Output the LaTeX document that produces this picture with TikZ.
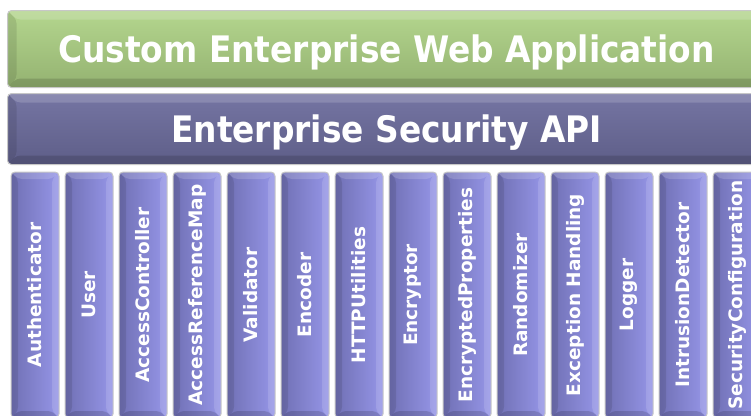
\documentclass[tikz,border=0pt]{standalone}
\usepackage{fontspec}
\setmainfont{DejaVu Sans}
\newfontfamily\condfont{DejaVu Sans Condensed}
\definecolor{appTop}{HTML}{B4D68E}
\definecolor{appBot}{HTML}{94B271}
\definecolor{apiTop}{HTML}{7575A3}
\definecolor{apiBot}{HTML}{5E5E88}
\definecolor{colLeft}{HTML}{7070B4}
\definecolor{colRight}{HTML}{9696E8}
\newcommand{\bevelpic}[1]{%
  \path (path picture bounding box.north west) coordinate (bnw)
        (path picture bounding box.north east) coordinate (bne)
        (path picture bounding box.south east) coordinate (bse)
        (path picture bounding box.south west) coordinate (bsw);
  \fill[white,opacity=.16] (bnw) -- (bne) -- ([xshift=-#1,yshift=-#1]bne) -- ([xshift=#1,yshift=-#1]bnw) -- cycle;
  \fill[black,opacity=.10] (bnw) -- ([xshift=#1,yshift=-#1]bnw) -- ([xshift=#1,yshift=#1]bsw) -- (bsw) -- cycle;
  \fill[white,opacity=.14] (bne) -- ([xshift=-#1,yshift=-#1]bne) -- ([xshift=-#1,yshift=#1]bse) -- (bse) -- cycle;
  \fill[black,opacity=.14] (bsw) -- ([xshift=#1,yshift=#1]bsw) -- ([xshift=-#1,yshift=#1]bse) -- (bse) -- cycle;}
\tikzset{
  slab/.style={draw=black!22,line width=1pt,rounded corners=4pt,inner sep=0pt,
    text=white,path picture={\bevelpic{9pt}}},
  bar/.style={slab,anchor=north west,minimum width=758pt,text height=27pt,text depth=0pt,
    font=\condfont\bfseries\fontsize{36.5}{40}\selectfont},
  col/.style={slab,left color=colLeft,right color=colRight,minimum width=48pt,
    minimum height=246pt,font=\bfseries\fontsize{18.5}{20}\selectfont,
    path picture={\bevelpic{7pt}}}
}
\begin{document}
\begin{tikzpicture}[x=1pt,y=-1pt]
\useasboundingbox (0,0) rectangle (751,415);
\node[bar,top color=appTop,bottom color=appBot,minimum height=77pt] (app) at (7,10)
  {Custom Enterprise Web Application};
\node[bar,top color=apiTop,bottom color=apiBot,minimum height=71pt] (esapi) at (7,93)
  {Enterprise Security API};
\foreach \name [count=\i from 0] in {Authenticator,User,AccessController,AccessReferenceMap,
    Validator,Encoder,HTTPUtilities,Encryptor,EncryptedProperties,Randomizer,
    Exception Handling,Logger,IntrusionDetector,SecurityConfiguration} {
  \node[col] (c\i) at (35+54*\i,295) {\rotatebox{90}{\name}};}
\end{tikzpicture}
\end{document}
